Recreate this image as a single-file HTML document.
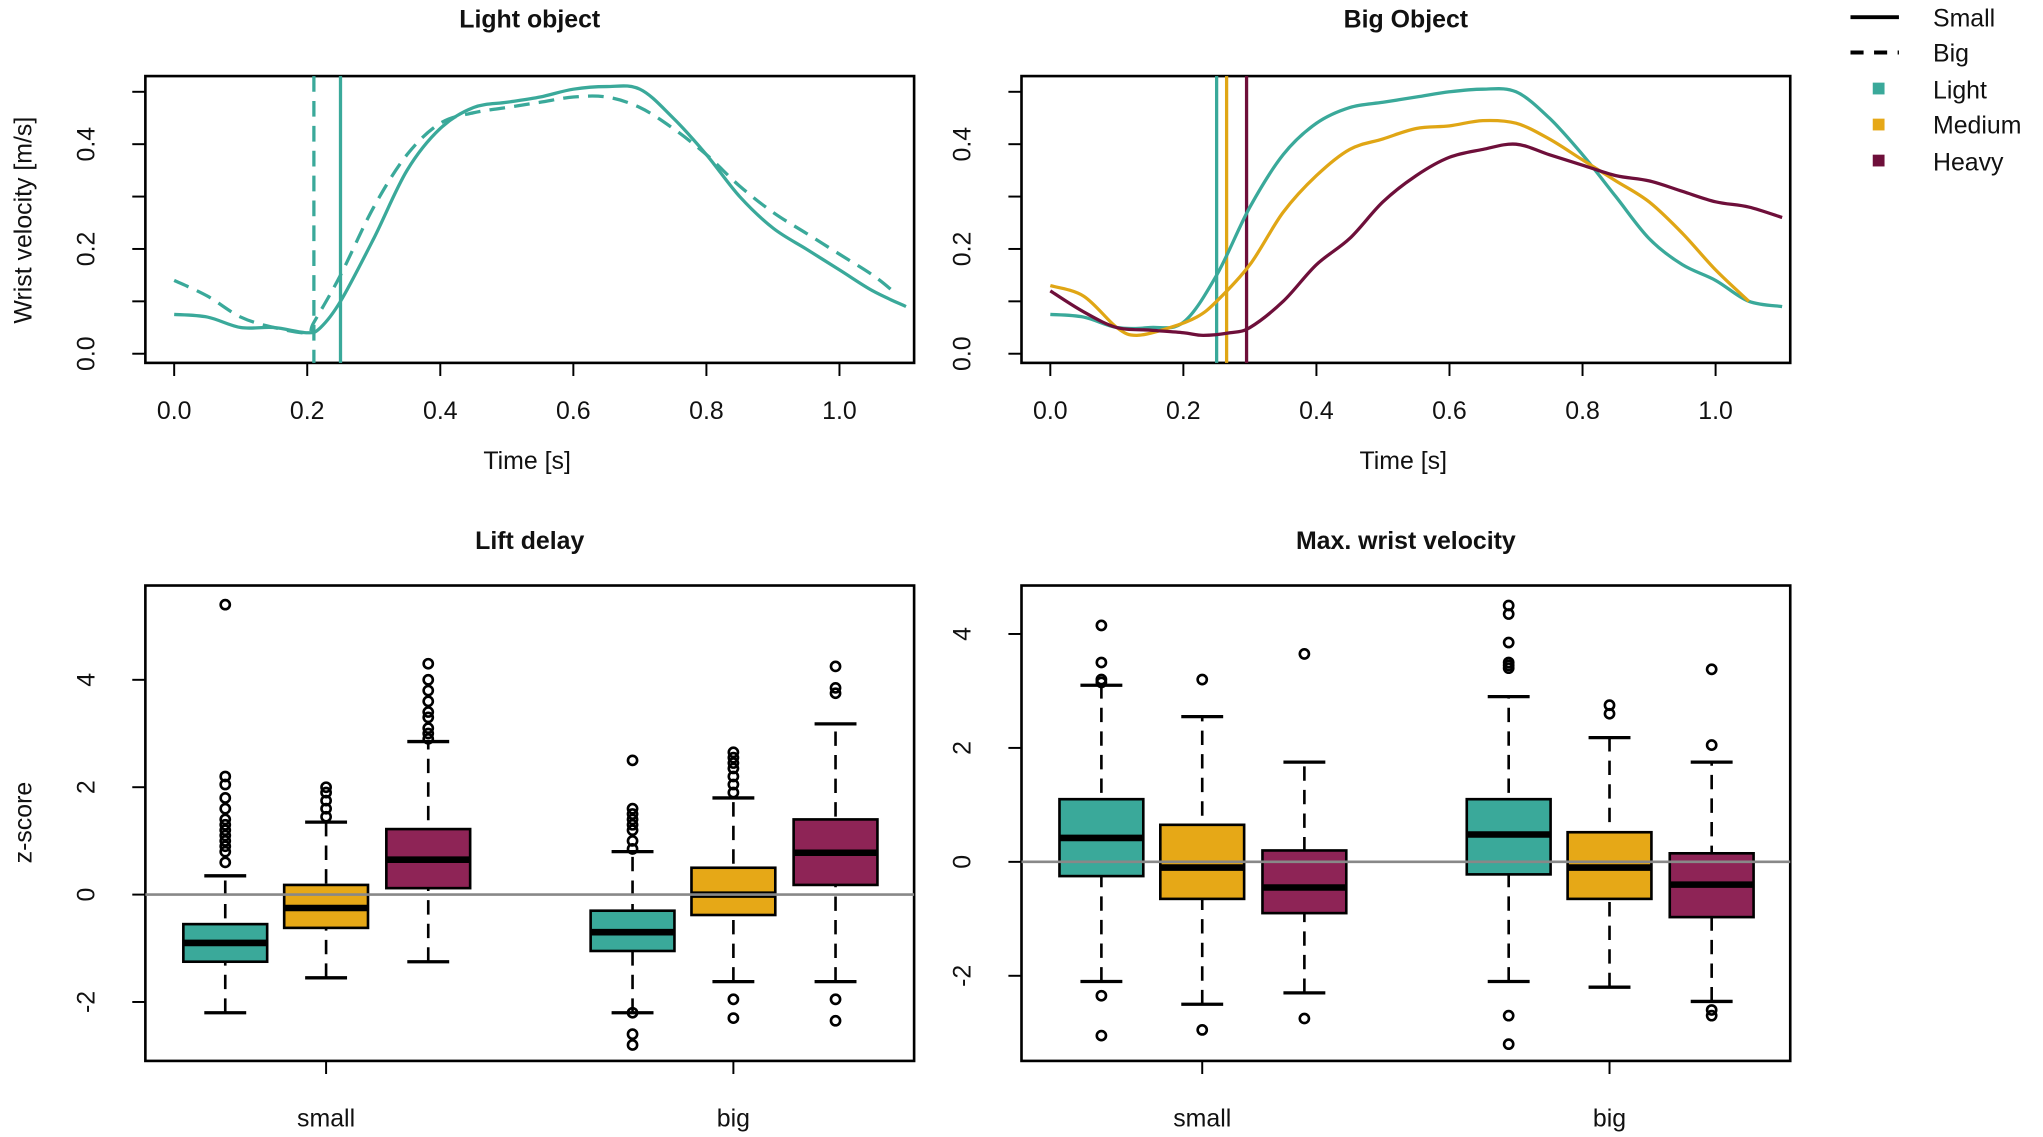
<!DOCTYPE html>
<html><head><meta charset="utf-8"><style>
html,body{margin:0;padding:0;background:#fff}
svg{display:block;font-family:"Liberation Sans",sans-serif}
</style></head><body>
<svg id="fig" width="2043" height="1137" viewBox="0 0 1560 868"></svg>
<script>
const tLight=[0,.05,.1,.15,.2,.22,.25,.3,.35,.4,.45,.5,.55,.6,.65,.7,.75,.8,.85,.9,.95,1.0,1.05,1.1];
const vLightSmall=[.075,.07,.05,.05,.04,.05,.1,.22,.35,.43,.47,.48,.49,.505,.51,.505,.45,.38,.3,.24,.2,.16,.12,.09];
const tLightBig=[0,.05,.1,.15,.2,.21,.25,.3,.35,.4,.45,.5,.55,.6,.65,.7,.75,.8,.85,.9,.95,1.0,1.05,1.08];
const vLightBig=[.14,.11,.07,.05,.04,.06,.15,.28,.38,.44,.46,.47,.48,.49,.49,.47,.43,.38,.32,.27,.23,.19,.15,.12];
const tBigL=[0,.05,.1,.15,.2,.25,.3,.35,.4,.45,.5,.55,.6,.65,.7,.75,.8,.85,.9,.95,1.0,1.05,1.1];
const vBigL=[.075,.07,.05,.05,.06,.15,.28,.38,.44,.47,.48,.49,.5,.505,.5,.45,.38,.3,.22,.17,.14,.1,.09];
const tBigM=[0,.05,.1,.13,.18,.22,.25,.3,.35,.4,.45,.5,.55,.6,.65,.7,.75,.8,.85,.9,.95,1.0,1.05];
const vBigM=[.13,.11,.05,.035,.05,.07,.1,.17,.27,.34,.39,.41,.43,.435,.445,.44,.41,.37,.33,.29,.23,.16,.1];
const tBigH=[0,.05,.1,.15,.2,.23,.27,.3,.35,.4,.45,.5,.55,.6,.65,.7,.75,.8,.85,.9,.95,1.0,1.05,1.1];
const vBigH=[.12,.08,.05,.045,.04,.035,.04,.05,.1,.17,.22,.29,.34,.375,.39,.4,.38,.36,.34,.33,.31,.29,.28,.26];
const onsetLight=[0.21,0.25];
const onsetBig=[0.25,0.265,0.295];
const xTicks=[0,.2,.4,.6,.8,1.0];
const yTicksTop=[0,.1,.2,.3,.4,.5];
const yLabelsTop=["0.0","","0.2","","0.4",""];
// boxplot stats: [lowWhisker,q1,median,q3,highWhisker]
const liftStats=[[-2.2,-1.25,-0.9,-0.55,0.35],[-1.55,-0.62,-0.25,0.18,1.35],[-1.25,0.12,0.65,1.22,2.85],
 [-2.2,-1.05,-0.7,-0.3,0.8],[-1.62,-0.38,0.0,0.5,1.8],[-1.62,0.18,0.78,1.4,3.18]];
const liftOut=[[5.4,2.2,2.05,1.8,1.6,1.4,1.3,1.2,1.1,1.0,0.9,0.8,0.6],[2.0,1.9,1.75,1.6,1.45],[4.3,4.0,3.8,3.6,3.4,3.3,3.1,3.0,2.9],
 [2.5,1.6,1.5,1.4,1.3,1.2,1.0,0.85,-2.2,-2.6,-2.8],[2.65,2.55,2.45,2.35,2.2,2.05,1.9,-1.95,-2.3],[4.25,3.85,3.75,-1.95,-2.35]];
const velStats=[[-2.1,-0.25,0.42,1.1,3.1],[-2.5,-0.65,-0.1,0.65,2.55],[-2.3,-0.9,-0.45,0.2,1.75],
 [-2.1,-0.22,0.48,1.1,2.9],[-2.2,-0.65,-0.1,0.52,2.18],[-2.45,-0.97,-0.4,0.15,1.75]];
const velOut=[[4.15,3.5,3.2,3.15,-2.35,-3.05],[3.2,-2.95],[3.65,-2.75],[4.5,4.35,3.85,3.5,3.45,3.4,-2.7,-3.2],[2.75,2.6],[3.38,2.05,-2.6,-2.7]];
const colors=["#3aa99a","#e6a817","#8e2456"];
const lineColors=["#3aa99a","#e0a615","#6e0f3a"];

const svg=document.getElementById('fig');const NS="http://www.w3.org/2000/svg";
function el(tag,attrs,parent,name){const e=document.createElementNS(NS,tag);for(const k in attrs)e.setAttribute(k,attrs[k]);
 
 
 (parent||svg).appendChild(e);return e;}
function txt(s,x,y,attrs,name){const t=el('text',Object.assign({x:x,y:y,'font-size':19,'text-anchor':'middle',fill:'#111'},attrs||{}),null,name);t.textContent=s;return t;}
function smooth(pts){let d='M'+pts[0][0].toFixed(1)+','+pts[0][1].toFixed(1);
 for(let i=0;i<pts.length-1;i++){const p0=pts[Math.max(0,i-1)],p1=pts[i],p2=pts[i+1],p3=pts[Math.min(pts.length-1,i+2)];
  const c1=[p1[0]+(p2[0]-p0[0])/6,p1[1]+(p2[1]-p0[1])/6],c2=[p2[0]-(p3[0]-p1[0])/6,p2[1]-(p3[1]-p1[1])/6];
  d+=`C${c1[0].toFixed(1)},${c1[1].toFixed(1)} ${c2[0].toFixed(1)},${c2[1].toFixed(1)} ${p2[0].toFixed(1)},${p2[1].toFixed(1)}`;}
 return d;}

function linePanel(bx,title,series,onsets,name,ylab){
 const L=bx,R=bx+587,T=58,B=277;
 const sx=t=>bx+22+t*508, sy=v=>270-v*400;
 el('rect',{x:L,y:T,width:R-L,height:B-T,fill:'none',stroke:'#000','stroke-width':2},null,name+'-frame');
 txt(title,(L+R)/2,21,{'font-weight':'bold'},name+'-title');
 xTicks.forEach(t=>{el('line',{x1:sx(t),x2:sx(t),y1:B,y2:B+10,stroke:'#000','stroke-width':1.5},null,'x-tick');
  txt(t.toFixed(1),sx(t),320,{},'x-tick-label');});
 txt('Time [s]',(L+R)/2-2,358,{},'x-axis-title');
 yTicksTop.forEach((v,i)=>{el('line',{x1:L,x2:L-10,y1:sy(v),y2:sy(v),stroke:'#000','stroke-width':1.5},null,'y-tick');
  if(yLabelsTop[i]){txt(yLabelsTop[i],0,0,{transform:`translate(${L-39},${sy(v)}) rotate(-90)`},'y-tick-label');}});
 if(ylab) txt(ylab,0,0,{transform:`translate(24,168) rotate(-90)`},'y-axis-title');
 const clip=el('clipPath',{id:'c'+name},null,'clip');el('rect',{x:L,y:T,width:R-L,height:B-T},clip,'clip-rect');
 onsets.forEach(o=>el('line',{x1:sx(o.t),x2:sx(o.t),y1:T,y2:B,stroke:o.c,'stroke-width':2.5,'stroke-dasharray':o.d||''},null,'onset-line'));
 series.forEach(s=>{const d=smooth(s.t.map((t,i)=>[sx(t),sy(s.v[i])]));
  el('path',{d:d,fill:'none',stroke:s.c,'stroke-width':2.5,'stroke-dasharray':s.d||'','clip-path':`url(#c${name})`},null,s.n);});
}
linePanel(111,'Light object',[{t:tLight,v:vLightSmall,c:colors[0],n:'light-small-line'},{t:tLightBig,v:vLightBig,c:colors[0],d:'12,7',n:'light-big-line'}],
 [{t:onsetLight[0],c:colors[0],d:'12,7'},{t:onsetLight[1],c:colors[0]}],'light','Wrist velocity [m/s]');
linePanel(780,'Big Object',[{t:tBigL,v:vBigL,c:lineColors[0],n:'big-light-line'},{t:tBigM,v:vBigM,c:lineColors[1],n:'big-medium-line'},{t:tBigH,v:vBigH,c:lineColors[2],n:'big-heavy-line'}],
 onsetBig.map((t,i)=>({t:t,c:lineColors[i]})),'big',null);

function boxPanel(bx,title,stats,outs,zeroY,unit,ticks,name,ylab){
 const L=bx,R=bx+587,T=447,B=810;const sy=v=>zeroY-v*unit;
 const centers=[bx+61,bx+138,bx+216,bx+372,bx+449,bx+527];
 el('rect',{x:L,y:T,width:R-L,height:B-T,fill:'none',stroke:'#000','stroke-width':2},null,name+'-frame');
 txt(title,(L+R)/2,419,{'font-weight':'bold'},name+'-title');
 ticks.forEach(v=>{el('line',{x1:L,x2:L-10,y1:sy(v),y2:sy(v),stroke:'#000','stroke-width':1.5},null,'y-tick');
  txt(String(v),0,0,{transform:`translate(${L-39},${sy(v)}) rotate(-90)`},'y-tick-label');});
 if(ylab) txt(ylab,0,0,{transform:`translate(24,628) rotate(-90)`},'y-axis-title');
 [['small',bx+138],['big',bx+449]].forEach(c=>{el('line',{x1:c[1],x2:c[1],y1:B,y2:B+10,stroke:'#000','stroke-width':1.5},null,'x-tick');
  txt(c[0],c[1],860,{},'category-label');});
 stats.forEach((s,i)=>{const cx=centers[i],w=64,g=el('g',{},null,'box-'+i);
  el('line',{x1:cx,x2:cx,y1:sy(s[0]),y2:sy(s[4]),stroke:'#000','stroke-width':2,'stroke-dasharray':'11,7'},g,'whisker');
  [s[0],s[4]].forEach(v=>el('line',{x1:cx-16,x2:cx+16,y1:sy(v),y2:sy(v),stroke:'#000','stroke-width':2.5},g,'whisker-cap'));
  el('rect',{x:cx-w/2,y:sy(s[3]),width:w,height:sy(s[1])-sy(s[3]),fill:colors[i%3],stroke:'#000','stroke-width':2},g,'iqr-box');
  el('line',{x1:cx-w/2,x2:cx+w/2,y1:sy(s[2]),y2:sy(s[2]),stroke:'#000','stroke-width':5},g,'median');
  outs[i].forEach(v=>el('circle',{cx:cx,cy:sy(v),r:3.5,fill:'none',stroke:'#000','stroke-width':2},g,'outlier'));});
 el('line',{x1:L,x2:R,y1:sy(0),y2:sy(0),stroke:'#888','stroke-width':2},null,'zero-line');
}
boxPanel(111,'Lift delay',liftStats,liftOut,683,41,[-2,0,2,4],'lift','z-score');
boxPanel(780,'Max. wrist velocity',velStats,velOut,658,43.5,[-2,0,2,4],'vel',null);

const lg=el('g',{},null,'legend');
el('line',{x1:1413,x2:1450,y1:13,y2:13,stroke:'#000','stroke-width':3},lg,'legend-small-line');
el('line',{x1:1413,x2:1450,y1:40,y2:40,stroke:'#000','stroke-width':3,'stroke-dasharray':'10,8'},lg,'legend-big-line');
[['Small',13],['Big',40],['Light',68],['Medium',95],['Heavy',123]].forEach(a=>txt(a[0],1476,a[1]+7,{'text-anchor':'start'},'legend-label'));
colors.forEach((c,i)=>el('rect',{x:1430,y:63+i*27.5,width:9,height:9,fill:i==2?'#6e0f3a':c},lg,'legend-swatch'));
</script>
</body></html>
